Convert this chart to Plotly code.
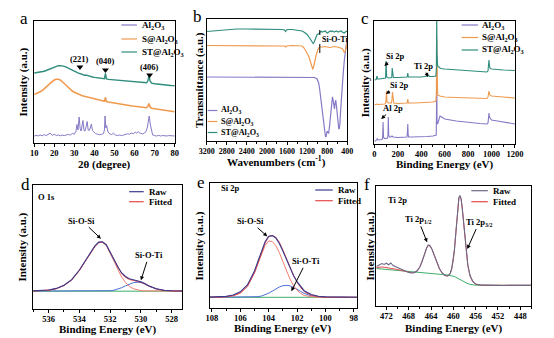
import plotly.graph_objects as go

W, H = 554, 338
FONT = "Liberation Serif"

# ---------------- (a) XRD ----------------
xrd_al_x = [10, 11, 12, 13, 14, 15, 16, 17, 18, 19,
            20, 21, 22, 23, 24, 25, 26, 27, 28, 29,
            30, 30.8, 31.3, 31.8, 32.4, 32.9, 33.4, 33.8, 34.3, 34.8,
            35.3, 35.8, 36.4, 36.9, 37.4, 37.9, 38.5, 39.0, 39.6, 40.5,
            41.5, 42.5, 43.5, 44.5, 45.0, 45.3, 45.7, 46.1, 46.6, 47.1,
            47.8, 48.5, 49.5, 50.5, 51.5, 52.5, 53.5, 54.5, 55.5, 56.5,
            57.5, 58.5, 59.5, 60.3, 61.0, 61.8, 62.5, 63.3, 64.0, 65.0,
            65.8, 66.4, 66.9, 67.3, 67.8, 68.4, 69.0, 70.0, 71.0, 72.0,
            73.0, 74.0, 75.0, 76.0, 77.0, 78.0, 79.0, 80.0]
xrd_al_y = [7.0, 7.6, 7.1, 8.0, 7.2, 8.4, 7.5, 9.0, 9.8, 7.6,
            8.8, 7.4, 8.1, 7.2, 7.9, 7.4, 8.0, 8.6, 7.9, 9.6,
            8.8, 11.5, 18.5, 13.0, 26.0, 14.5, 12.0, 15.5, 22.5, 12.5,
            12.0, 16.0, 21.5, 13.0, 12.5, 15.0, 19.0, 12.5, 11.0, 9.5,
            8.8, 8.2, 8.6, 9.5, 13.0, 27.0, 15.0, 17.5, 12.0, 10.0,
            9.0, 8.4, 9.8, 8.0, 7.5, 8.0, 7.4, 8.2, 8.6, 9.2,
            8.8, 10.0, 9.2, 11.0, 10.0, 11.2, 10.2, 9.6, 9.0, 10.0,
            12.0, 16.0, 24.0, 27.0, 19.0, 11.0, 8.0, 7.4, 7.0, 7.6,
            7.0, 7.5, 7.1, 7.0, 7.4, 7.0, 7.2, 7.0]
xrd_sx = [10, 11, 12, 13, 14, 15, 16, 17, 18, 19,
          20, 21, 22, 23, 24, 25, 26, 27, 28, 29,
          30, 31, 32, 33, 34, 35, 36, 37, 38, 39,
          40, 41, 42, 43, 44, 45, 45.5, 46, 47, 48,
          49, 50, 51, 52, 53, 54, 55, 56, 57, 58,
          59, 60, 61, 62, 63, 64, 65, 66, 66.7, 67.2,
          67.7, 68.5, 70, 71, 72, 73, 74, 75, 76, 77,
          78, 79, 80]
xrd_s_y = [48.5, 49.3, 50.0, 51.2, 52.5, 54.0, 55.8, 57.8, 60.0, 61.8,
           63.0, 63.8, 63.8, 63.0, 61.5, 59.5, 57.5, 55.5, 53.8, 52.0,
           50.8, 49.8, 48.8, 48.0, 47.2, 46.8, 46.2, 45.8, 45.2, 44.8,
           44.2, 43.8, 43.2, 42.8, 42.2, 41.8, 45.5, 41.4, 41.0, 40.6,
           40.2, 39.8, 39.5, 39.2, 38.8, 38.5, 38.2, 37.8, 37.5, 37.3,
           37.0, 36.8, 36.5, 36.2, 36.0, 35.8, 35.5, 35.3, 37.0, 39.5,
           36.0, 34.8, 34.3, 34.0, 33.6, 33.3, 33.0, 32.7, 32.4, 32.1,
           31.8, 31.6, 31.3]
xrd_st_y = [70.0, 70.3, 70.5, 70.8, 71.3, 71.8, 72.5, 73.3, 74.3, 75.3,
            76.2, 76.9, 77.3, 77.4, 77.2, 76.7, 75.8, 74.7, 73.5, 72.4,
            71.4, 70.5, 69.8, 69.3, 68.4, 67.8, 67.9, 67.0, 66.4, 66.0,
            65.6, 65.3, 65.0, 64.7, 64.5, 64.3, 69.5, 64.0, 63.6, 63.4,
            63.2, 63.0, 62.8, 62.6, 62.4, 62.2, 62.0, 61.8, 61.6, 61.4,
            61.2, 61.0, 60.9, 60.8, 60.6, 60.5, 60.3, 60.2, 62.5, 68.5,
            62.0, 59.8, 59.3, 59.0, 58.8, 58.5, 58.3, 58.1, 57.9, 57.7,
            57.5, 57.4, 57.2]
hkl_labels = ["(221)", "(040)", "(406)"]
hkl_x = [32.8, 45.5, 67.5]
hkl_mark_y = [76, 73, 68]
hkl_text_y = [84, 82, 76]

# ---------------- (b) FTIR ----------------
ir_st_x = [3200, 3000, 2800, 2600, 2400, 2200, 2000, 1800, 1700, 1650,
           1630, 1610, 1580, 1500, 1400, 1300, 1250, 1200, 1150, 1120,
           1100, 1080, 1060, 1040, 1020, 1000, 980, 960, 940, 920,
           900, 880, 860, 840, 820, 800, 780, 760, 740, 720,
           700, 680, 660, 640, 620, 600, 580, 560, 540, 520,
           500, 480, 460, 440, 420, 400]
ir_st_y = [109.5, 110.5, 111.5, 112, 112, 112, 112, 112, 111.5, 111,
           109.5, 111, 111.5, 111.5, 111, 110, 108.5, 106.5, 103, 100,
           98, 97.5, 99, 102, 105, 106.5, 107, 107.5, 109, 109.5,
           109, 109.5, 110, 110, 109, 108, 108.5, 109.5, 110, 109.5,
           110, 109.5, 109, 109.5, 110, 109.5, 109, 109.5, 110, 110,
           109, 108.5, 108, 109, 110, 110]
ir_s_x = [3200, 2800, 2400, 2000, 1700, 1650, 1630, 1610, 1500, 1400,
          1300, 1260, 1220, 1180, 1150, 1120, 1100, 1090, 1080, 1060,
          1040, 1020, 1000, 980, 960, 940, 900, 850, 800, 750,
          700, 650, 600, 550, 500, 480, 460, 440, 420, 400]
ir_s_y = [95.5, 95.5, 95.5, 95.5, 95.5, 95, 94, 95, 95.5, 95.5,
          95, 93, 90, 86, 82, 77, 73, 72, 72.5, 76,
          81, 86, 90, 92, 93.5, 94, 94, 94.5, 94, 93.5,
          94, 94.5, 94, 93.5, 92.5, 91, 88.5, 90, 94, 98]
ir_al_x = [3200, 2400, 1600, 1200, 1050, 1000, 970, 950, 930, 910,
           890, 870, 850, 835, 825, 812, 800, 785, 770, 755,
           740, 725, 710, 695, 685, 670, 655, 642, 630, 615,
           600, 585, 570, 560, 548, 535, 520, 500, 480, 460,
           440, 420, 400]
ir_al_y = [64, 64, 64, 64, 63.5, 62, 58, 52, 43, 33,
           23, 14, 7, 4.5, 4, 7, 10, 8.5, 8, 14,
           22, 30, 38, 44, 42, 34, 32, 38, 41, 35,
           25, 17, 12.5, 12, 16, 28, 42, 55, 68, 80,
           89, 96, 100]
sioti_line_x = [947, 947]
sioti_line_y = [88, 111]

# ---------------- (c) XPS survey ----------------
xps_al_x = [0, 10, 20, 25, 30, 50, 65, 70, 74, 78,
            85, 100, 112, 116, 119, 122, 128, 140, 150, 160,
            200, 250, 278, 282, 285, 288, 292, 320, 400, 450,
            500, 520, 528, 530, 531, 532, 535, 540, 550, 560,
            575, 600, 700, 800, 900, 960, 970, 975, 978, 982,
            990, 1000, 1050, 1100, 1150, 1200]
xps_al_y = [3, 3, 4.5, 5.5, 4, 4, 4.5, 6, 22, 7,
            5.5, 5.5, 6, 9, 27, 9, 7, 7, 8, 7,
            6.5, 6.5, 7, 12, 20, 10, 7, 7, 7, 7.5,
            8, 8.5, 9, 30, 90, 60, 22, 20, 23, 28,
            27, 25, 23, 21.5, 20.5, 20, 21, 27, 31, 27,
            25, 24, 23, 22, 21, 20]
xps_s_x = [0, 20, 30, 60, 90, 98, 103, 108, 120, 145,
           150, 154, 158, 165, 200, 280, 285, 290, 350, 450,
           500, 525, 529, 532, 535, 540, 560, 600, 700, 800,
           900, 960, 970, 978, 985, 1000, 1100, 1200]
xps_s_y = [39, 40, 39.5, 39.5, 40, 42, 53, 42, 41, 41,
           44, 52, 43, 41, 40.5, 41, 45, 41, 41, 41.5,
           42, 43, 50, 105, 60, 49, 48, 47, 46.5, 46,
           45.5, 45.5, 47, 53, 49, 48, 47, 46]
xps_st_x = [0, 15, 22, 28, 40, 80, 95, 100, 105, 120,
            148, 152, 156, 162, 200, 280, 285, 290, 400, 450,
            455, 459, 463, 470, 500, 525, 529, 532, 535, 540,
            555, 565, 600, 700, 800, 900, 960, 970, 978, 985,
            1000, 1100, 1200]
xps_st_y = [64, 64.5, 68, 65, 65, 65.5, 66, 83, 67, 66,
            66.5, 76, 67, 66.5, 66.5, 67, 71, 67, 67, 67.5,
            68, 69.5, 68, 67.5, 67.5, 68, 75, 130, 90, 78,
            76, 75.5, 75, 74, 73, 72.5, 72, 73, 84, 76,
            75, 74, 73.5]

# ---------------- (d) O 1s ----------------
o1s_x = [537.0, 536.5, 536.0, 535.5, 535.0, 534.5, 534.0, 533.5, 533.0, 532.75,
         532.5, 532.25, 532.0, 531.75, 531.5, 531.25, 531.0, 530.75, 530.5, 530.25,
         530.0, 529.75, 529.5, 529.0, 528.5, 528.0, 527.3]
o1s_raw = [18.1, 18.4, 19.0, 20.6, 23.8, 29.4, 39.0, 51.0, 62.8, 66.9,
           67.3, 64.3, 57.4, 49.5, 42.0, 36.0, 32.5, 30.2, 29.2, 28.3,
           27.2, 25.4, 23.3, 20.3, 18.8, 18.2, 18.0]
o1s_fit = [18.0, 18.3, 18.8, 20.3, 23.5, 29.0, 38.5, 50.5, 62.3, 66.3,
           66.8, 63.8, 56.8, 48.8, 41.3, 35.3, 31.7, 29.5, 28.6, 27.8,
           26.8, 25.1, 23.0, 20.0, 18.6, 18.1, 18.0]
o1s_siosi = [18.0, 18.3, 18.8, 20.3, 23.5, 29.0, 38.5, 50.5, 62.3, 66.3,
             66.8, 63.5, 56.5, 48.0, 39.5, 32.0, 26.5, 22.5, 20.3, 19.0,
             18.4, 18.1, 18.0, 18.0, 18.0, 18.0, 18.0]
o1s_sioti = [18.0, 18.0, 18.0, 18.0, 18.0, 18.0, 18.0, 18.0, 18.0, 18.0,
             18.1, 18.2, 18.3, 18.8, 19.8, 21.3, 23.2, 25.0, 26.3, 26.8,
             26.4, 25.0, 23.0, 20.0, 18.6, 18.1, 18.0]
o1s_bg_x = [537.0, 527.3]
o1s_bg_y = [17.8, 17.8]

# ---------------- (e) Si 2p ----------------
si2p_x = [108.16, 107.5, 107, 106.5, 106, 105.5, 105, 104.75, 104.5, 104.25,
          104, 103.75, 103.5, 103.25, 103, 102.75, 102.5, 102.25, 102, 101.75,
          101.5, 101, 100.5, 100, 99, 97.78]
si2p_raw = [10.9, 11.0, 11.6, 13.0, 16.2, 23.0, 37.0, 47.0, 57.0, 66.2,
            71.8, 72.4, 70.0, 64.6, 57.0, 48.8, 40.2, 32.6, 26.3, 21.2,
            17.3, 13.4, 11.8, 11.1, 10.9, 10.8]
si2p_fit = [10.7, 10.8, 11.2, 12.3, 15.0, 21.6, 35.3, 45.1, 55.3, 65.0,
            71.1, 72.6, 70.8, 65.8, 58.1, 49.5, 40.5, 32.6, 25.9, 20.5,
            16.5, 12.7, 11.3, 10.8, 10.7, 10.7]
si2p_siosi = [10.7, 10.8, 11.2, 12.3, 15.0, 21.5, 35.0, 44.5, 54.0, 62.5,
              67.0, 66.5, 62.5, 55.5, 46.5, 37.5, 29.0, 22.5, 17.8, 14.6,
              12.6, 11.2, 10.8, 10.7, 10.7, 10.7]
si2p_sioti = [10.7, 10.7, 10.7, 10.7, 10.7, 10.8, 11.0, 11.3, 12.0, 13.2,
              14.8, 16.8, 19.0, 21.0, 22.3, 22.7, 22.2, 20.8, 18.8, 16.6,
              14.6, 12.2, 11.2, 10.8, 10.7, 10.7]
si2p_bg_x = [108.16, 97.78]
si2p_bg_y = [10.7, 10.7]

# ---------------- (f) Ti 2p ----------------
ti2p_x = [473.8, 473.3, 472.8, 472.4, 472.0, 471.6, 471.2, 470.8, 470.4, 470.0,
          469.5, 469.0, 468.5, 468.0, 467.5, 467.0, 466.5, 466.0, 465.6, 465.2,
          464.8, 464.5, 464.2, 463.8, 463.4, 463.0, 462.5, 462.0, 461.5, 461.0,
          460.6, 460.3, 460.0, 459.8, 459.6, 459.4, 459.2, 459.0, 458.8, 458.6,
          458.4, 458.2, 458.0, 457.7, 457.4, 457.0, 456.5, 456.0, 455.5, 455.0,
          454.0, 453.0, 452.0, 451.0, 450.0, 449.0, 448.0, 447.0, 446.0]
ti2p_raw = [39.5, 41.0, 42.5, 41.5, 42.8, 41.2, 43.0, 40.5, 39.5, 38.0,
            36.8, 35.5, 34.5, 33.6, 33.0, 33.4, 35.0, 39.0, 44.5, 51.5,
            58.0, 61.0, 60.5, 56.5, 50.5, 44.0, 37.5, 33.0, 30.5, 30.0,
            32.0, 37.0, 46.0, 56.0, 70.0, 86.0, 100.0, 108.5, 110.5, 107.0,
            98.0, 86.0, 73.0, 55.0, 41.0, 30.5, 24.5, 22.0, 21.3, 21.0,
            20.9, 20.6, 20.9, 20.5, 20.8, 20.6, 20.9, 20.6, 20.8]
ti2p_fit = [38.5, 39.0, 39.0, 38.8, 38.5, 38.2, 37.8, 37.4, 37.0, 36.5,
            35.8, 35.0, 34.3, 33.7, 33.3, 33.6, 35.2, 39.0, 44.3, 51.0,
            57.5, 60.5, 60.0, 56.3, 50.3, 43.8, 37.3, 32.8, 30.5, 30.0,
            32.0, 37.0, 46.0, 56.5, 70.5, 86.5, 100.3, 108.5, 110.0, 106.5,
            97.5, 85.5, 72.5, 54.5, 40.5, 30.0, 24.0, 21.8, 21.0, 20.8,
            20.7, 20.7, 20.7, 20.7, 20.7, 20.7, 20.7, 20.7, 20.7]
ti2p_bg_x = [473.8, 470, 466, 463, 461, 459.8, 459, 458.3, 457.6, 457, 456.3, 455.5, 446]
ti2p_bg_y = [37.5, 35.5, 33.5, 32.3, 31.0, 29.5, 27.5, 25.0, 22.8, 21.6, 21.0, 20.7, 20.7]

# ---------------- styling ----------------
C_AL, C_S, C_ST = "#8579c6", "#ef9a4e", "#2f8c7d"
C_RAW, C_FIT, C_C1, C_C2, C_BG = "#3a3a8c", "#e5484d", "#ef7f6f", "#4a6fd0", "#3fae6a"
C_RAW_F = "#6a6a8a"

# plot boxes in page pixels: left, top, right, bottom
boxes = {
    1: (27, 21, 172, 143),
    2: (205, 19, 350, 141),
    3: (378, 21, 523, 144),
    4: (26, 185, 180, 309),
    5: (208, 183, 360, 308),
    6: (380, 186, 540, 306),
}
xcfg = {
    1: dict(range=[10, 80], tick0=10, dtick=10, minor=5, fs=8.5),
    2: dict(range=[3200, 400], tick0=400, dtick=400, minor=200, fs=8),
    3: dict(range=[0, 1200], tick0=0, dtick=200, minor=100, fs=8.5),
    4: dict(range=[537, 527.3], tick0=528, dtick=2, minor=1, fs=8.5),
    5: dict(range=[108.16, 97.78], tick0=98, dtick=2, minor=1, fs=8.5),
    6: dict(range=[473.8, 446], tick0=448, dtick=4, minor=2, fs=8.5),
}
yrange = {1: [0, 122], 2: [0, 122], 3: [0, 123], 4: [0, 124], 5: [0, 125], 6: [0, 120]}
# axis titles: text, page-pixel position
xtitles = {1: ("2θ (degree)", 164), 2: ("Wavenumbers (cm<sup>-1</sup>)", 161),
           3: ("Binding Energy (eV)", 164), 4: ("Binding Energy (eV)", 329),
           5: ("Binding Energy (eV)", 328), 6: ("Binding Energy (eV)", 328)}
ytitles = {1: ("Intensity (a.u.)", 15), 2: ("Transmittance (a.u.)", 197),
           3: ("Intensity (a.u.)", 369), 4: ("Intensity (a.u.)", 15),
           5: ("Intensity (a.u.)", 198), 6: ("Intensity (a.u.)", 373)}


def PX(px):
    return px / W


def PY(py):
    return 1 - py / H


fig = go.Figure()


def line(i, x, y, color, width=1.1, dash=None):
    s = "" if i == 1 else str(i)
    fig.add_trace(go.Scatter(x=x, y=y, mode="lines", xaxis="x" + s, yaxis="y" + s,
                             line=dict(color=color, width=width, dash=dash),
                             showlegend=False, hoverinfo="skip"))


# (a)
line(1, xrd_al_x, xrd_al_y, C_AL, 1.0)
line(1, xrd_sx, xrd_s_y, C_S, 1.6)
line(1, xrd_sx, xrd_st_y, C_ST, 1.4)
fig.add_trace(go.Scatter(x=hkl_x, y=hkl_mark_y, mode="markers", xaxis="x", yaxis="y",
                         marker=dict(symbol="triangle-down", size=6, color="black"),
                         showlegend=False, hoverinfo="skip"))
# (b)
line(2, ir_al_x, ir_al_y, C_AL, 1.2)
line(2, ir_s_x, ir_s_y, C_S, 1.2)
line(2, ir_st_x, ir_st_y, C_ST, 1.2)
line(2, sioti_line_x, sioti_line_y, "black", 1.0, "dash")
# (c)
line(3, xps_al_x, xps_al_y, C_AL, 1.1)
line(3, xps_s_x, xps_s_y, C_S, 1.1)
line(3, xps_st_x, xps_st_y, C_ST, 1.1)
# (d)
line(4, o1s_bg_x, o1s_bg_y, C_BG, 1.0)
line(4, o1s_x, o1s_sioti, C_C2, 1.0)
line(4, o1s_x, o1s_siosi, C_C1, 1.0)
line(4, o1s_x, o1s_fit, C_FIT, 1.0)
line(4, o1s_x, o1s_raw, C_RAW, 1.1)
# (e)
line(5, si2p_bg_x, si2p_bg_y, C_BG, 1.0)
line(5, si2p_x, si2p_sioti, C_C2, 1.0)
line(5, si2p_x, si2p_siosi, C_C1, 1.0)
line(5, si2p_x, si2p_fit, C_FIT, 1.0)
line(5, si2p_x, si2p_raw, C_RAW, 1.1)
# (f)
line(6, ti2p_bg_x, ti2p_bg_y, C_BG, 1.0)
line(6, ti2p_x, ti2p_fit, C_FIT, 1.0)
line(6, ti2p_x, ti2p_raw, C_RAW_F, 1.1)

layout = dict(width=W, height=H, margin=dict(l=0, r=0, t=0, b=0),
              paper_bgcolor="white", plot_bgcolor="white",
              font=dict(family=FONT, color="black"), showlegend=False)
for i in range(1, 7):
    s = "" if i == 1 else str(i)
    l, t, r, b = boxes[i]
    c = xcfg[i]
    layout["xaxis" + s] = dict(
        domain=[PX(l), PX(r)], anchor="y" + s, range=c["range"],
        tickmode="linear", tick0=c["tick0"], dtick=c["dtick"], tickangle=0,
        ticks="outside", ticklen=3, tickwidth=1, tickcolor="black",
        ticklabelstandoff=-1,
        minor=dict(ticks="outside", ticklen=2, tickwidth=1, tickcolor="black",
                   tick0=c["tick0"], dtick=c["minor"]),
        showline=True, linewidth=1.3, linecolor="black", mirror=True,
        showgrid=False, zeroline=False,
        tickfont=dict(family=FONT, size=c["fs"], color="black", weight="bold"))
    layout["yaxis" + s] = dict(
        domain=[PY(b), PY(t)], anchor="x" + s, range=yrange[i],
        showticklabels=False, ticks="", showline=True, linewidth=1.3,
        linecolor="black", mirror=True, showgrid=False, zeroline=False)
fig.update_layout(**layout)

ann = []
shapes = []

TITLE_FONT = dict(family=FONT, size=11, color="black")
for i in range(1, 7):
    l, t, r, b = boxes[i]
    txt, py = xtitles[i]
    ann.append(dict(x=PX((l + r) / 2), y=PY(py), xref="paper", yref="paper",
                    text="<b>" + txt + "</b>", showarrow=False,
                    xanchor="center", yanchor="middle", font=TITLE_FONT))
    txt, px = ytitles[i]
    ann.append(dict(x=PX(px), y=PY((t + b) / 2), xref="paper", yref="paper",
                    text="<b>" + txt + "</b>", showarrow=False, textangle=-90,
                    xanchor="center", yanchor="middle", font=TITLE_FONT))


def text_px(px, py, txt, size=9, anchor="left"):
    ann.append(dict(x=PX(px), y=PY(py), xref="paper", yref="paper", text="<b>" + txt + "</b>",
                    showarrow=False, xanchor=anchor, yanchor="middle",
                    font=dict(family=FONT, size=size, color="black")))


def legend(x0, x1, xt, rows, labels, colors, size=9):
    for py, lab, col in zip(rows, labels, colors):
        shapes.append(dict(type="line", xref="paper", yref="paper", x0=PX(x0), x1=PX(x1),
                           y0=PY(py), y1=PY(py), line=dict(color=col, width=1.2)))
        text_px(xt, py, lab, size)


def arrow(i, x, y, ax, ay, txt, size=8.5):
    s = "" if i == 1 else str(i)
    ann.append(dict(x=x, y=y, xref="x" + s, yref="y" + s, ax=ax, ay=ay, text="<b>" + txt + "</b>",
                    showarrow=True, arrowhead=2, arrowsize=0.8, arrowwidth=1, arrowcolor="black",
                    font=dict(family=FONT, size=size, color="black")))


SAMPLES = ["Al<sub>2</sub>O<sub>3</sub>", "S@Al<sub>2</sub>O<sub>3</sub>", "ST@Al<sub>2</sub>O<sub>3</sub>"]
legend(117, 133, 136, [25, 39, 52], SAMPLES, [C_AL, C_S, C_ST])
legend(206, 216, 218, [110.5, 121.5, 132.5], SAMPLES, [C_AL, C_S, C_ST], 8.2)
legend(468, 485, 487, [25, 37.5, 50], SAMPLES, [C_AL, C_S, C_ST])
legend(125, 140, 143, [191.7, 201.7], ["Raw", "Fitted"], [C_RAW, C_FIT])
legend(317, 335, 338, [190, 200.7], ["Raw", "Fitted"], [C_RAW, C_FIT])
legend(478, 495, 498, [190.7, 201.7], ["Raw", "Fitted"], [C_RAW_F, C_FIT])

for hx, hy, lab in zip(hkl_x, hkl_text_y, hkl_labels):
    ann.append(dict(x=hx, y=hy, xref="x", yref="y", text="<b>" + lab + "</b>", showarrow=False,
                    font=dict(family=FONT, size=8.5, color="black")))

text_px(337, 40, "Si-O-Ti", 8, "center")

arrow(3, 85, 78, 11, -10, "Si 2p")
arrow(3, 99, 50, 13, -9, "Si 2p")
arrow(3, 58, 25, 12, -11, "Al 2p")
arrow(3, 458, 67, -5, -11, "Ti 2p")

text_px(29, 197, "O 1s", 8.5)
arrow(4, 532.6, 70.3, -19, -18, "Si-O-Si")
arrow(4, 530.0, 28.7, 8, -25, "Si-O-Ti")

text_px(218, 188, "Si 2p", 8.5)
arrow(5, 104.1, 71.7, -17, -15, "Si-O-Si")
arrow(5, 102.4, 16.7, 15, -30, "Si-O-Ti")

text_px(390, 200, "Ti 2p", 8.5)
arrow(6, 464.7, 63.7, -9, -23, "Ti 2p<sub>1/2</sub>")
arrow(6, 457.5, 57, 12, -27, "Ti 2p<sub>3/2</sub>")

for lx, ly, lt in [(16, 18, "a"), (195, 16, "b"), (368, 18, "c"),
                   (18, 184, "d"), (199, 182, "e"), (370, 184, "f")]:
    ann.append(dict(x=PX(lx), y=PY(ly), xref="paper", yref="paper", text=lt, showarrow=False,
                    xanchor="center", yanchor="middle",
                    font=dict(family=FONT, size=17, color="black")))

fig.update_layout(annotations=ann, shapes=shapes)
fig.write_html("out.html")
